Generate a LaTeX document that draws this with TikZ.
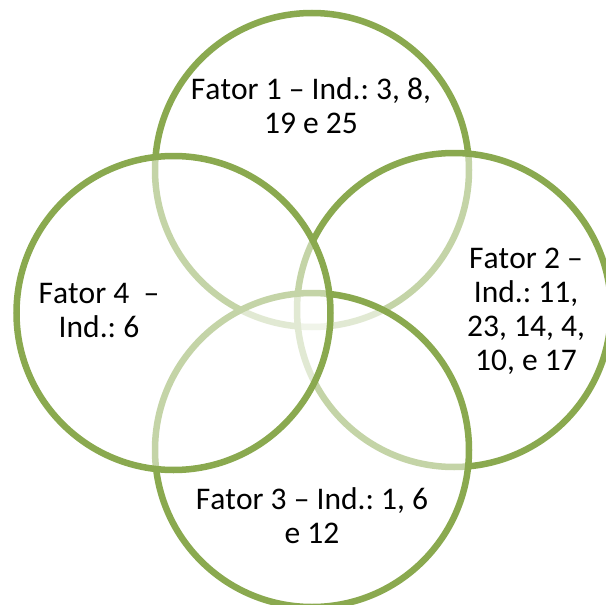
\documentclass[tikz,border=0pt]{standalone}
\usepackage{fontspec}
\setmainfont[Kerning=Off]{Carlito}
\definecolor{ringgreen}{HTML}{8AA94F}
\frenchspacing
\begin{document}
\begin{tikzpicture}[x=1pt,y=-1pt,
  ring/.style={draw=ringgreen,line width=6.5pt,fill=white,fill opacity=0.5,draw opacity=1},
  label/.style={align=center,anchor=base,inner sep=0pt,text=black,
    font=\fontsize{31.5}{34}\selectfont\frenchspacing}]
\useasboundingbox (0,0) rectangle (606,605);
\begin{scope}
\clip (0,0) rectangle (606,605);
\path[ring] (312,170) circle[radius=157];   % Fator 1 (top)
\path[ring] (454,310) circle[radius=157];   % Fator 2 (right)
\path[ring] (312,450) circle[radius=157];   % Fator 3 (bottom)
\path[ring] (173.5,313) circle[radius=157]; % Fator 4 (left)
\end{scope}
\node[label] (f1) at (311,133) {Fator 1 – Ind.: 3, 8,\\19 e 25};
\node[label] (f2) at (526,370) {Fator 2 –\\Ind.: 11,\\23, 14, 4,\\10, e 17};
\node[label] (f3) at (312,543) {Fator 3 – Ind.: 1, 6\\e 12};
\node[label] (f4) at (99,337) {Fator 4 \ –\\Ind.: 6};
\end{tikzpicture}
\end{document}
